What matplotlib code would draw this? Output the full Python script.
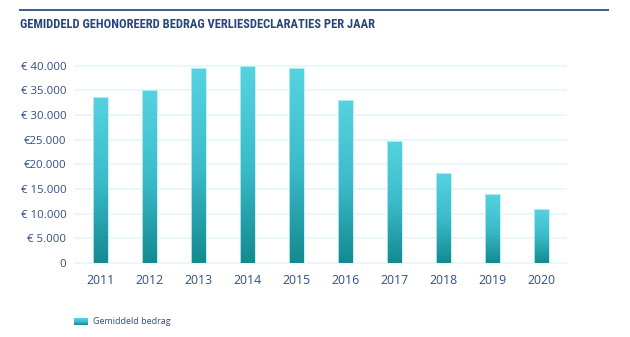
import matplotlib.pyplot as plt
import numpy as np
from matplotlib.colors import LinearSegmentedColormap

# average honoured amount of loss declarations per year
years = ['2011', '2012', '2013', '2014', '2015', '2016', '2017', '2018', '2019', '2020']
bedrag = [33700, 35000, 39500, 40000, 39500, 33100, 24800, 18250, 13900, 10950]
ytick_values = [0, 5000, 10000, 15000, 20000, 25000, 30000, 35000, 40000]
ytick_labels = ['0', '€ 5.000', '€ 10.000', '€ 15.000', '€20.000', '€25.000',
                '€ 30.000', '€ 35.000', '€ 40.000']

navy = '#24457d'
label_col = '#2f4f85'
cmap = LinearSegmentedColormap.from_list('teal', ['#138a8f', '#3cbccb', '#56d3e0'])
grad = np.linspace(0, 1, 256).reshape(-1, 1)

fig = plt.figure(figsize=(6.3, 3.37), dpi=100)
ax = fig.add_axes([0.1186, 0.2196, 0.7794, 0.5855])

x = np.arange(len(years))
bars = ax.bar(x, bedrag, width=0.3, color='none', edgecolor='#bdeff4', linewidth=0.6, zorder=3)

# fill each bar with a vertical gradient
for b in bars:
    x0, w, h = b.get_x(), b.get_width(), b.get_height()
    im = ax.imshow(grad, cmap=cmap, origin='lower', aspect='auto',
                   extent=[x0, x0 + w, 0, h], zorder=2)
    im.set_clip_path(b)

ax.set_xlim(-0.53, 9.5)
ax.set_ylim(0, 40000)
ax.set_yticks(ytick_values)
ax.set_yticklabels(ytick_labels)
ax.set_xticks(x)
ax.set_xticklabels(years)

for v in ytick_values:
    ax.axhline(v, color='#e4f6f9', linewidth=1.2, zorder=1, clip_on=False)

for s in ax.spines.values():
    s.set_visible(False)
ax.tick_params(length=0, colors=label_col)
ax.tick_params(axis='y', pad=6, labelsize=8.2)
ax.tick_params(axis='x', pad=8, labelsize=8.8)
for t in ax.get_xticklabels() + ax.get_yticklabels():
    t.set_fontfamily(['Open Sans', 'DejaVu Sans'])

# title and rule above it
fig.add_artist(plt.Line2D([20 / 630, 608 / 630], [1 - 10 / 337, 1 - 10 / 337],
                          color='#3b5b8e', linewidth=1.4))
fig.text(20 / 630, 1 - 25 / 337, 'GEMIDDELD GEHONOREERD BEDRAG VERLIESDECLARATIES PER JAAR',
         fontsize=9, fontweight='bold', color=navy, va='center', ha='left',
         fontstretch='condensed',
         family=['Roboto Condensed', 'Roboto', 'DejaVu Sans'])

# legend
lax = fig.add_axes([74 / 630, 1 - 325 / 337, 14 / 630, 7 / 337])
lax.imshow(grad, cmap=cmap, origin='lower', aspect='auto')
lax.axis('off')
fig.text(93 / 630, 1 - 321.5 / 337, 'Gemiddeld bedrag', fontsize=6.5, color=label_col,
         va='center', ha='left', family=['Open Sans', 'DejaVu Sans'])

fig.savefig('out.png', dpi=100)
